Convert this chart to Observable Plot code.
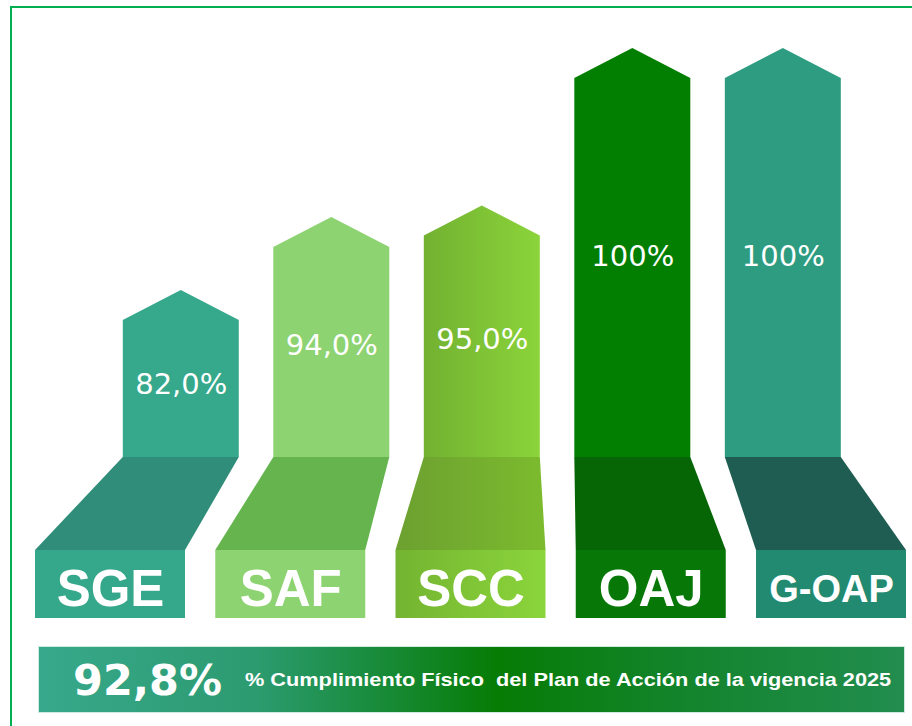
<!DOCTYPE html>
<html><head><meta charset="utf-8">
<script src="https://cdn.jsdelivr.net/npm/d3@7"></script>
<script src="https://cdn.jsdelivr.net/npm/@observablehq/plot@0.6"></script>
<style>
html,body{margin:0;padding:0;background:#fff;overflow:hidden;}
#root{position:relative;width:912px;height:726px;overflow:hidden;}
.frame{position:absolute;left:10px;top:6px;width:1400px;height:1400px;border-left:2px solid #00b050;border-top:2px solid #00b050;}
.layer{position:absolute;left:0;}
#banner{position:absolute;left:38px;top:646px;width:867px;height:67px;box-sizing:border-box;border:1px solid #cfe9dd;
  background:linear-gradient(to right,#37a88b 0%,#2c9b70 25%,#067c05 53%,#14842d 75%,#228d4f 100%);}
#banner span{position:absolute;top:50%;white-space:pre;color:#fff;transform-origin:left center;}
</style></head><body><div id="root"><div class="frame"></div></div>
<script>
// ---------- data ----------
const categories = ["SGE", "SAF", "SCC", "OAJ", "G-OAP"];
const values = [82.0, 94.0, 95.0, 100, 100];          // % cumplimiento por dependencia
const totalValue = 92.8;                              // % cumplimiento físico global
const captionText = "% Cumplimiento Físico  del Plan de Acción de la vigencia 2025";

// ---------- styles ----------
const shaftFill = ["#36a88b", "#8dd372", "url(#sccShaft)", "#027e00", "#2e9c81"];
const rampFill  = ["#2f8d79", "#65b44e", "url(#sccRamp)",  "#066606", "#1f5d52"];
const labelFill = ["#35a78a", "#8ed372", "url(#sccLabel)", "#077807", "#238a72"];

const fmt = v => (v === 100 ? "100" : v.toFixed(1).replace(".", ",")) + "%";

// ---------- layout ----------
const W = 912, baseY = 457, rampDepth = 93, labelH = 68;
const idx = categories.map((c, i) => i);
const xOpts = {type: "linear", domain: [0, categories.length - 1], range: [110, 831], axis: null};
const step = (xOpts.range[1] - xOpts.range[0]) / (categories.length - 1);
const labelHalf = 75 / step, shaftHalf = 58 / step;
// shafts are the label row seen in perspective (vanishing point + depth factor)
const vanish = 2.38, depth = 0.835;
const shaftCenter = i => vanish + (i - vanish) * depth;

function gradient(id, from, to) {
  const ns = "http://www.w3.org/2000/svg";
  const g = document.createElementNS(ns, "linearGradient");
  g.setAttribute("id", id); g.setAttribute("x1", "0"); g.setAttribute("x2", "1");
  g.setAttribute("y1", "0"); g.setAttribute("y2", "0");
  [[0, from], [1, to]].forEach(([o, c]) => {
    const s = document.createElementNS(ns, "stop");
    s.setAttribute("offset", o); s.setAttribute("stop-color", c); g.appendChild(s);
  });
  return g;
}
function defsMark(list) {
  return () => {
    const d = document.createElementNS("http://www.w3.org/2000/svg", "defs");
    list.forEach(a => d.appendChild(gradient(...a)));
    return d;
  };
}

// ---------- plot A: arrow shafts ----------
const shortfall = values.map(v => 100 - v);
const yOpts = {type: "symlog", constant: 0.6, domain: [0, d3.max(shortfall)], range: [78, 320]};
const yS = Plot.scale({y: yOpts});
const base = yS.invert(baseY);
const apexRise = 30;
const shaftRows = idx.flatMap(i => {
  const cx = shaftCenter(i), top = shortfall[i];
  const apex = yS.invert(yS.apply(top) - apexRise);
  return [{i, x: cx - shaftHalf, y: top}, {i, x: cx, y: apex}, {i, x: cx + shaftHalf, y: top}];
});
const labelY = idx.map(i => {
  const p = yS.apply(shortfall[i]);
  return yS.invert(p + 0.47 * (baseY - p));
});

const plotA = Plot.plot({
  width: W, height: baseY, margin: 0,
  x: xOpts, y: {...yOpts, axis: null},
  color: {type: "identity"},
  style: {background: "transparent", overflow: "visible"},
  marks: [
    defsMark([["sccShaft", "#72b131", "#8bd43a"]]),
    Plot.areaY(shaftRows, {x: "x", y1: base, y2: "y", z: "i", fill: d => shaftFill[d.i], curve: "linear"}),
    Plot.text(idx, {x: i => shaftCenter(i), y: i => labelY[i], text: i => fmt(values[i]),
      fill: "white", fontSize: 29, fontFamily: "DejaVu Sans, Verdana, sans-serif"})
  ]
});
plotA.classList.add("layer"); plotA.style.top = "0px";

// ---------- plot B: ramps and category boxes ----------
const rampRows = idx.flatMap(i => [
  {i, y: 0, x1: shaftCenter(i) - shaftHalf, x2: shaftCenter(i) + shaftHalf},
  {i, y: rampDepth, x1: i - labelHalf, x2: i + labelHalf}
]);
const hB = rampDepth + labelH;
const plotB = Plot.plot({
  width: W, height: hB, margin: 0,
  x: xOpts, y: {type: "linear", domain: [0, hB], range: [0, hB], axis: null},
  color: {type: "identity"},
  style: {background: "transparent", overflow: "visible"},
  marks: [
    defsMark([["sccRamp", "#6ca030", "#7cbb2e"], ["sccLabel", "#74b431", "#8bd53b"]]),
    Plot.areaX(rampRows, {y: "y", x1: "x1", x2: "x2", z: "i", fill: d => rampFill[d.i], curve: "linear"}),
    Plot.rect(idx, {x1: i => i - labelHalf, x2: i => i + labelHalf, y1: rampDepth, y2: hB, fill: i => labelFill[i]}),
    Plot.text(idx.filter(i => categories[i].length <= 3), {x: i => i, y: rampDepth + labelH / 2, dy: 5,
      text: i => categories[i], fill: "white", fontSize: 51, fontWeight: "bold",
      fontFamily: "Liberation Sans, Arial, sans-serif"}),
    Plot.text(idx.filter(i => categories[i].length > 3), {x: i => i, y: rampDepth + labelH / 2, dy: 5,
      text: i => categories[i], fill: "white", fontSize: 38, fontWeight: "bold",
      fontFamily: "Liberation Sans, Arial, sans-serif"})
  ]
});
plotB.classList.add("layer"); plotB.style.top = baseY + "px";

const root = document.getElementById("root");
root.appendChild(plotA);
root.appendChild(plotB);

// ---------- banner (caption) ----------
const ctx = document.createElement("canvas").getContext("2d");
function fitSpan(text, font, left, width) {
  const s = document.createElement("span");
  s.textContent = text; s.style.font = font; s.style.left = left + "px";
  ctx.font = font;
  const k = width / ctx.measureText(text).width;
  s.style.transform = `translateY(-50%) scaleX(${k})`;
  return s;
}
const banner = document.createElement("div");
banner.id = "banner";
banner.appendChild(fitSpan(fmt(totalValue), "bold 42px 'DejaVu Sans', Verdana, sans-serif", 34, 149));
banner.appendChild(fitSpan(captionText, "bold 19px 'Liberation Sans', Arial, sans-serif", 206, 647));
root.appendChild(banner);
</script></body></html>
